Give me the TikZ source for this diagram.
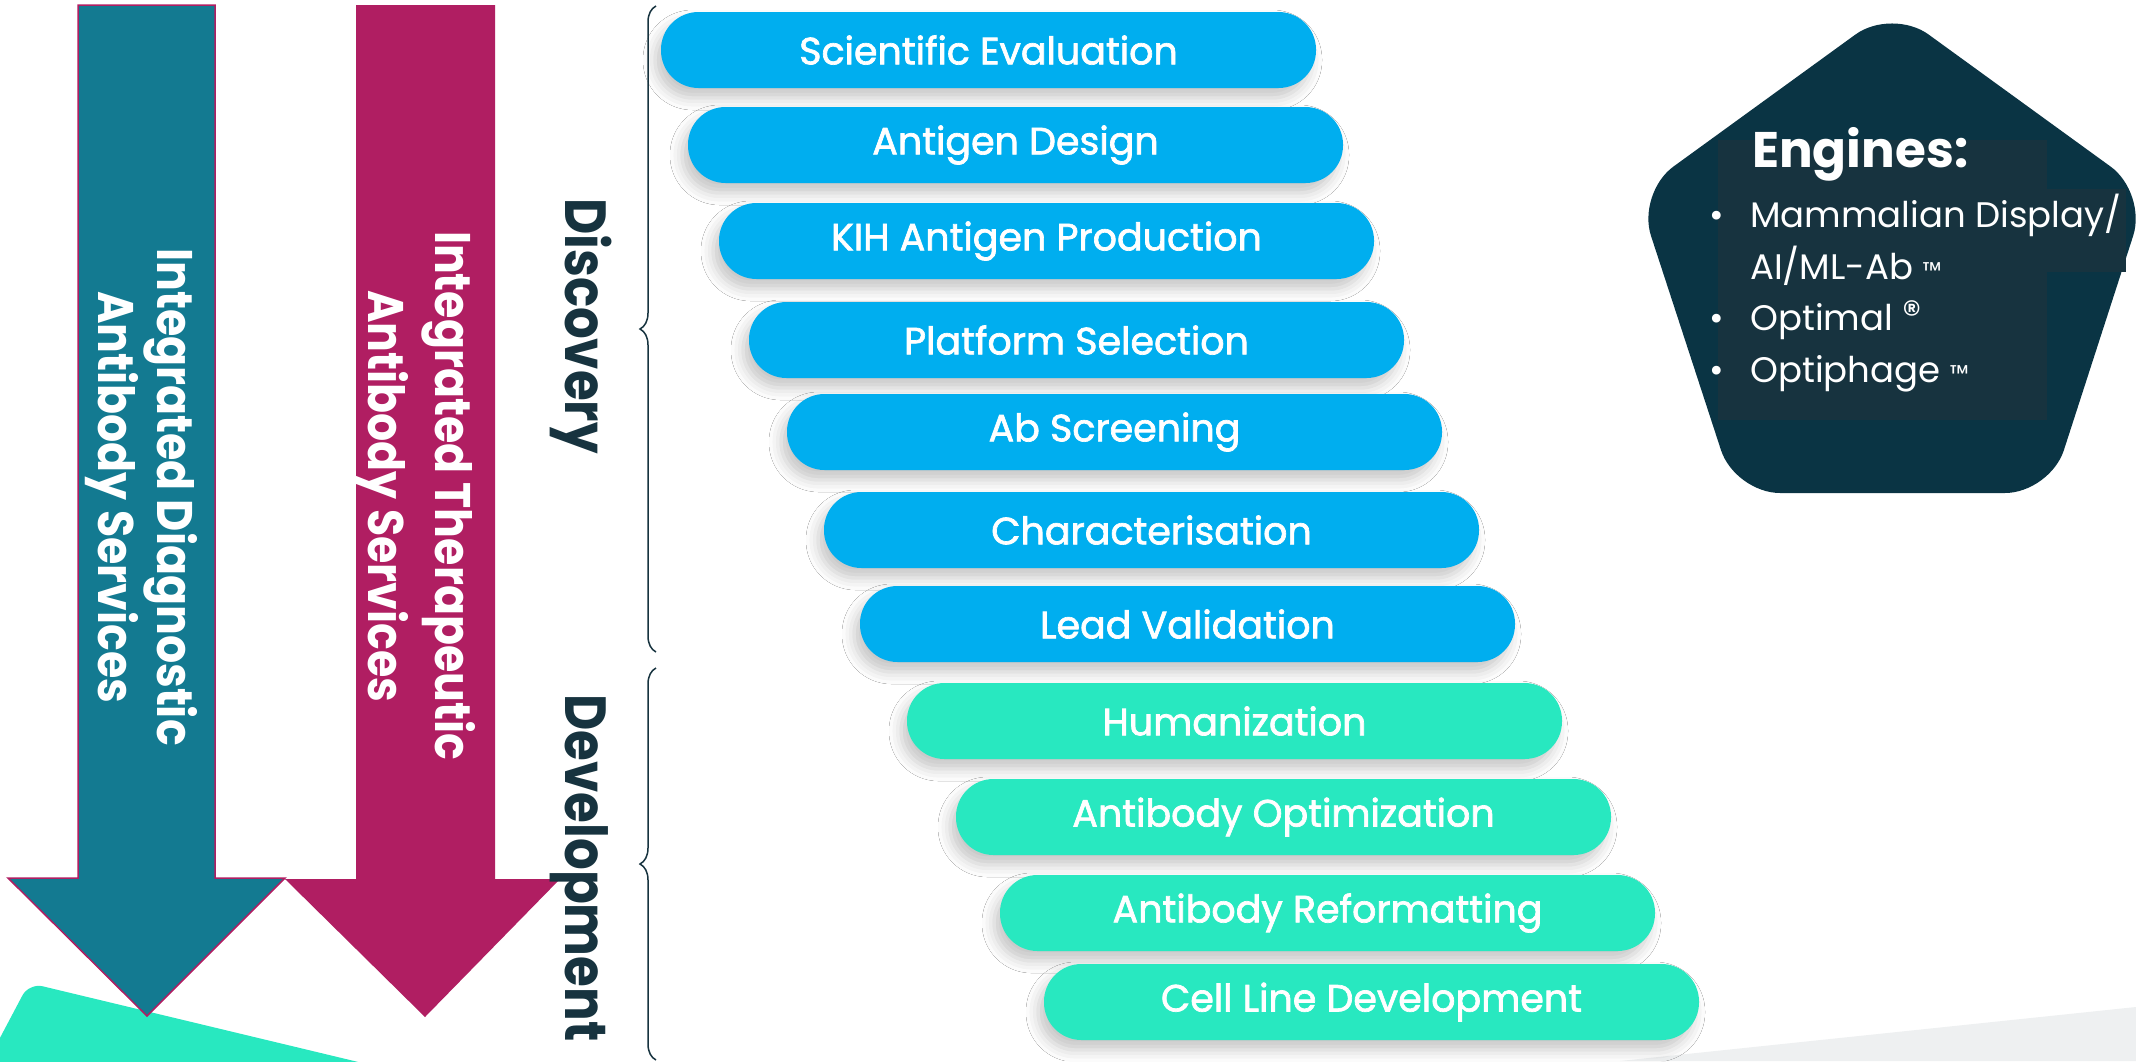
\documentclass[tikz,border=0pt]{standalone}
\usepackage{fontspec}
\setmainfont{Poppins}
\newfontfamily\pillfont{Poppins}[FakeBold=1.8]
\usepackage{graphicx}
\usetikzlibrary{decorations.pathreplacing,shadows.blur}
\definecolor{pillblue}{RGB}{0,174,239}
\definecolor{pillmint}{RGB}{40,232,192}
\definecolor{tealarrow}{RGB}{19,122,145}
\definecolor{magarrow}{RGB}{176,30,98}
\definecolor{darktext}{RGB}{23,51,63}
\definecolor{pentfill}{RGB}{10,52,68}
\definecolor{boxfill}{RGB}{23,51,63}
\definecolor{wedgegrey}{RGB}{238,240,241}
\newcommand{\tmark}{{\fontsize{24}{24}\selectfont ™}}
\newcommand{\rmark}{\raisebox{3pt}{\fontsize{38}{38}\selectfont ®}}
\begin{document}
\begin{tikzpicture}[x=1pt,y=-1pt,
  pill/.style={rectangle, rounded corners=37.5pt, minimum width=655pt, minimum height=76pt,
    inner sep=0pt, text=white, font=\pillfont\fontsize{38}{38}\selectfont,
    blur shadow={shadow xshift=-6pt, shadow yshift=-10pt, shadow blur radius=12pt, shadow opacity=22}},
  discpill/.style={pill, fill=pillblue},
  devpill/.style={pill, fill=pillmint},
  phase/.style={rotate=-90, anchor=base, inner sep=0pt, text=darktext, font=\bfseries\fontsize{58}{58}\selectfont},
  arrowtext/.style={rotate=-90, anchor=base, inner sep=0pt, text=white, font=\bfseries\fontsize{50}{50}\selectfont},
  bracestyle/.style={draw=darktext, line width=1.5pt, decorate, decoration={brace, amplitude=16pt}}
]
\useasboundingbox (0,0) rectangle (2136,1061);
\clip (0,0) rectangle (2136,1061);
\fill[white] (0,0) rectangle (2136,1061);

% background shapes
\fill[wedgegrey] (1620,1061) -- (2136,1007) -- (2136,1061) -- cycle;
\fill[pillmint, rounded corners=14pt] (-17,1070) -- (29,983) -- (400,1072) -- cycle;

% arrows
\fill[magarrow] (356,5) -- (495,5) -- (495,879) -- (560,879) -- (425,1017) -- (285,879) -- (356,879) -- cycle;
\filldraw[fill=tealarrow, draw=magarrow, line width=1.5pt] (78,5) -- (215,5) -- (215,878) -- (285,878) -- (147,1016) -- (8,878) -- (78,878) -- cycle;

\node[arrowtext] (diag1) at (157,497) {\scalebox{0.885}[1]{Integrated Diagnostic}};
\node[arrowtext] (diag2) at (98,497) {\scalebox{0.885}[1]{Antibody Services}};
\node[arrowtext] (ther1) at (435,495.5) {\scalebox{0.885}[1]{Integrated Therapeutic}};
\node[arrowtext] (ther2) at (368,496) {\scalebox{0.885}[1]{Antibody Services}};

% phase labels and braces
\node[phase] (disc) at (565,326) {\scalebox{0.86}[1]{Discovery}};
\node[phase] (dev) at (565,868) {\scalebox{0.86}[1]{Development}};
\draw[bracestyle] (656,652) -- (656,6);
\draw[bracestyle] (656,1060) -- (656,668);

% pills
\node[discpill] (p1) at (988.5,50) {Scientific Evaluation};
\node[discpill] (p2) at (1015.5,145) {Antigen Design};
\node[discpill] (p3) at (1046.5,241) {KIH Antigen Production};
\node[discpill] (p4) at (1076.5,340) {Platform Selection};
\node[discpill] (p5) at (1114.5,432) {Ab Screening};
\node[discpill] (p6) at (1151.5,530) {Characterisation};
\node[discpill] (p7) at (1187.5,624) {Lead Validation};
\node[devpill] (p8) at (1234.5,721) {Humanization};
\node[devpill] (p9) at (1283.5,817) {Antibody Optimization};
\node[devpill] (p10) at (1327.5,913) {Antibody Reformatting};
\node[devpill] (p11) at (1371.5,1002) {Cell Line Development};

% engines pentagon
\fill[pentfill, rounded corners=45pt] (1892,8) -- (2147,193) -- (2050,493) -- (1735,493) -- (1637,193) -- cycle;
\fill[boxfill] (1718,140) rectangle (2047,420);
\fill[boxfill] (2047,189) rectangle (2126,272);
\node[anchor=base west, inner sep=0pt, text=white, font=\bfseries\fontsize{50}{50}\selectfont] (eng) at (1752,167) {Engines:};
\node[anchor=north west, inner sep=0pt, align=left, text=white, font=\fontsize{35.5}{51.5}\selectfont] (englist) at (1705,194)
  {\makebox[24pt]{•}\hspace{21pt}Mammalian Display/\\
   \hspace*{45pt}AI/ML-Ab \tmark\\
   \makebox[24pt]{•}\hspace{21pt}Optimal \rmark\\
   \makebox[24pt]{•}\hspace{21pt}Optiphage \tmark};
\end{tikzpicture}
\end{document}
